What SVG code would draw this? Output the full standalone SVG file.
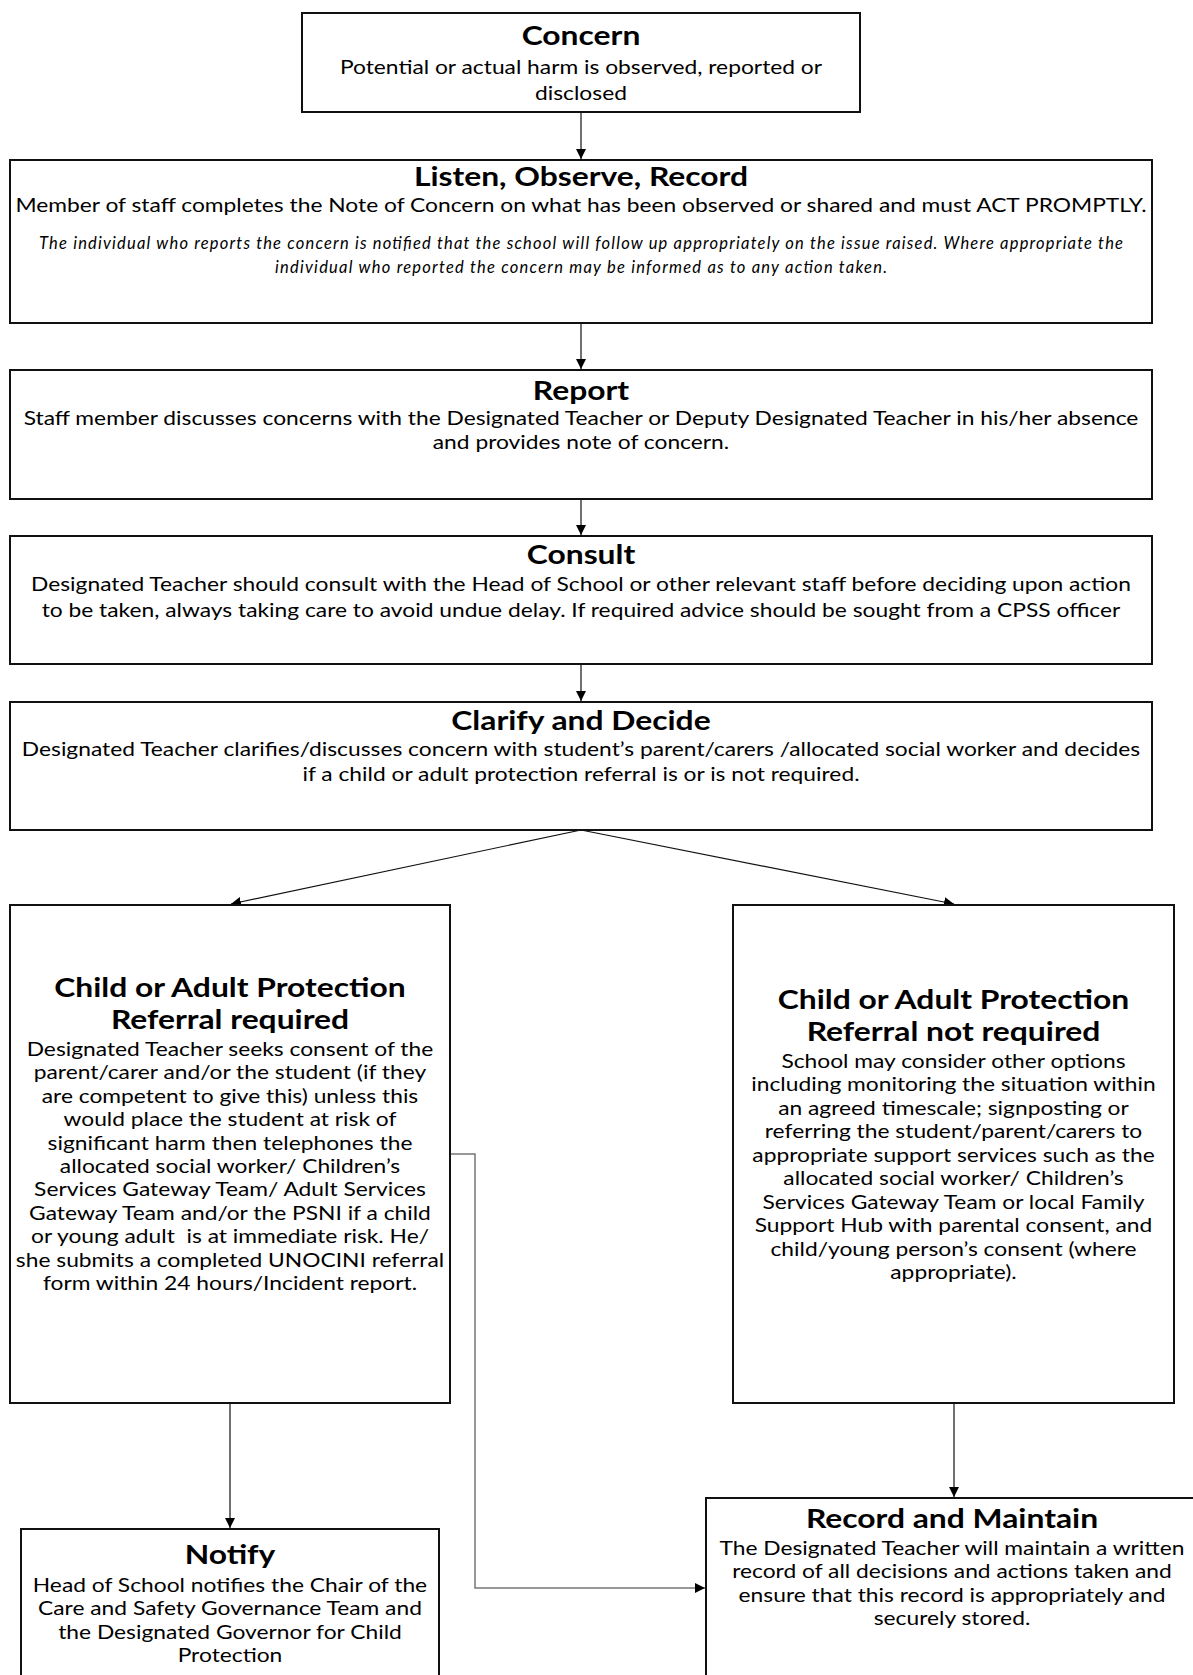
<svg xmlns="http://www.w3.org/2000/svg" width="1193" height="1675" viewBox="0 0 1193 1675">
<style>
  .box { fill: #ffffff; stroke: #111111; stroke-width: 2; }
  .t { font-family: Lato, "Liberation Sans", sans-serif; text-anchor: middle; fill: #000000; }
  .title { font-size: 26.5px; font-weight: bold; transform: scale(1.2, 1); }
  .body { font-size: 19.4px; transform: scale(1.175, 1); }
  .it { font-size: 16.5px; font-style: italic; }
  .conn { fill: none; stroke: #111111; stroke-width: 1.2; }
  .conn2 { fill: none; stroke: #777777; stroke-width: 1.5; }
</style>
<defs>
  <marker id="arr" viewBox="0 0 10 10" refX="10" refY="5" markerWidth="10" markerHeight="10" markerUnits="userSpaceOnUse" orient="auto">
    <path d="M0,0 L10,5 L0,10 z" fill="#000000"/>
  </marker>
</defs>
<rect width="1193" height="1675" fill="#ffffff"/>

<g id="connectors">
  <line class="conn" x1="581" y1="112" x2="581" y2="159" marker-end="url(#arr)"/>
  <line class="conn" x1="581" y1="323" x2="581" y2="369" marker-end="url(#arr)"/>
  <line class="conn" x1="581" y1="499" x2="581" y2="535" marker-end="url(#arr)"/>
  <line class="conn" x1="581" y1="664" x2="581" y2="701" marker-end="url(#arr)"/>
  <line class="conn" x1="581" y1="830" x2="231" y2="904" marker-end="url(#arr)"/>
  <line class="conn" x1="581" y1="830" x2="954" y2="904" marker-end="url(#arr)"/>
  <line class="conn" x1="230" y1="1403" x2="230" y2="1528" marker-end="url(#arr)"/>
  <line class="conn" x1="954" y1="1403" x2="954" y2="1497" marker-end="url(#arr)"/>
  <polyline class="conn2" points="451,1154 475,1154 475,1588 705,1588" marker-end="url(#arr)"/>
</g>

<g id="concern">
  <rect class="box" x="302" y="13" width="558" height="99"/>
  <text class="t title" x="484.17" y="45">Concern</text>
  <text class="t body" x="494.47" y="74">Potential or actual harm is observed, reported or</text>
  <text class="t body" x="494.47" y="100">disclosed</text>
</g>

<g id="listen">
  <rect class="box" x="10" y="160" width="1142" height="163"/>
  <text class="t title" x="484.17" y="186">Listen, Observe, Record</text>
  <text class="t body" x="494.47" y="212">Member of staff completes the Note of Concern on what has been observed or shared and must ACT PROMPTLY.</text>
  <text class="t it" x="581" y="249" textLength="1084">The individual who reports the concern is notified that the school will follow up appropriately on the issue raised. Where appropriate the</text>
  <text class="t it" x="581" y="273" textLength="612">individual who reported the concern may be informed as to any action taken.</text>
</g>

<g id="report">
  <rect class="box" x="10" y="370" width="1142" height="129"/>
  <text class="t title" x="484.17" y="400">Report</text>
  <text class="t body" x="494.47" y="425">Staff member discusses concerns with the Designated Teacher or Deputy Designated Teacher in his/her absence</text>
  <text class="t body" x="494.47" y="449">and provides note of concern.</text>
</g>

<g id="consult">
  <rect class="box" x="10" y="536" width="1142" height="128"/>
  <text class="t title" x="484.17" y="564">Consult</text>
  <text class="t body" x="494.47" y="591">Designated Teacher should consult with the Head of School or other relevant staff before deciding upon action</text>
  <text class="t body" x="494.47" y="617">to be taken, always taking care to avoid undue delay. If required advice should be sought from a CPSS officer</text>
</g>

<g id="clarify">
  <rect class="box" x="10" y="702" width="1142" height="128"/>
  <text class="t title" x="484.17" y="730">Clarify and Decide</text>
  <text class="t body" x="494.47" y="756">Designated Teacher clarifies/discusses concern with student’s parent/carers /allocated social worker and decides</text>
  <text class="t body" x="494.47" y="781">if a child or adult protection referral is or is not required.</text>
</g>

<g id="referral-required">
  <rect class="box" x="10" y="905" width="440" height="498"/>
  <text class="t title" x="191.67" y="997.5">Child or Adult Protection</text>
  <text class="t title" x="191.67" y="1029.5">Referral required</text>
  <text class="t body" x="195.74" y="1056">Designated Teacher seeks consent of the</text>
  <text class="t body" x="195.74" y="1079.4">parent/carer and/or the student (if they</text>
  <text class="t body" x="195.74" y="1102.8">are competent to give this) unless this</text>
  <text class="t body" x="195.74" y="1126.2">would place the student at risk of</text>
  <text class="t body" x="195.74" y="1149.6">significant harm then telephones the</text>
  <text class="t body" x="195.74" y="1173">allocated social worker/ Children’s</text>
  <text class="t body" x="195.74" y="1196.4">Services Gateway Team/ Adult Services</text>
  <text class="t body" x="195.74" y="1219.8">Gateway Team and/or the PSNI if a child</text>
  <text class="t body" x="195.74" y="1243.2" xml:space="preserve">or young adult  is at immediate risk. He/</text>
  <text class="t body" x="195.74" y="1266.6">she submits a completed UNOCINI referral</text>
  <text class="t body" x="195.74" y="1290">form within 24 hours/Incident report.</text>
</g>

<g id="referral-not-required">
  <rect class="box" x="733" y="905" width="441" height="498"/>
  <text class="t title" x="794.58" y="1009.5">Child or Adult Protection</text>
  <text class="t title" x="794.58" y="1041.5">Referral not required</text>
  <text class="t body" x="811.49" y="1068">School may consider other options</text>
  <text class="t body" x="811.49" y="1091.5">including monitoring the situation within</text>
  <text class="t body" x="811.49" y="1115">an agreed timescale; signposting or</text>
  <text class="t body" x="811.49" y="1138.5">referring the student/parent/carers to</text>
  <text class="t body" x="811.49" y="1162">appropriate support services such as the</text>
  <text class="t body" x="811.49" y="1185.5">allocated social worker/ Children’s</text>
  <text class="t body" x="811.49" y="1209">Services Gateway Team or local Family</text>
  <text class="t body" x="811.49" y="1232.5">Support Hub with parental consent, and</text>
  <text class="t body" x="811.49" y="1256">child/young person’s consent (where</text>
  <text class="t body" x="811.49" y="1279.5">appropriate).</text>
</g>

<g id="notify">
  <rect class="box" x="21" y="1529" width="418" height="170"/>
  <text class="t title" x="191.67" y="1564">Notify</text>
  <text class="t body" x="195.74" y="1592">Head of School notifies the Chair of the</text>
  <text class="t body" x="195.74" y="1615.5">Care and Safety Governance Team and</text>
  <text class="t body" x="195.74" y="1639">the Designated Governor for Child</text>
  <text class="t body" x="195.74" y="1662.5">Protection</text>
</g>

<g id="record-maintain">
  <rect class="box" x="706" y="1498" width="500" height="200"/>
  <text class="t title" x="793.33" y="1528">Record and Maintain</text>
  <text class="t body" x="810.21" y="1555">The Designated Teacher will maintain a written</text>
  <text class="t body" x="810.21" y="1578.4">record of all decisions and actions taken and</text>
  <text class="t body" x="810.21" y="1601.8">ensure that this record is appropriately and</text>
  <text class="t body" x="810.21" y="1625.2">securely stored.</text>
</g>
</svg>
